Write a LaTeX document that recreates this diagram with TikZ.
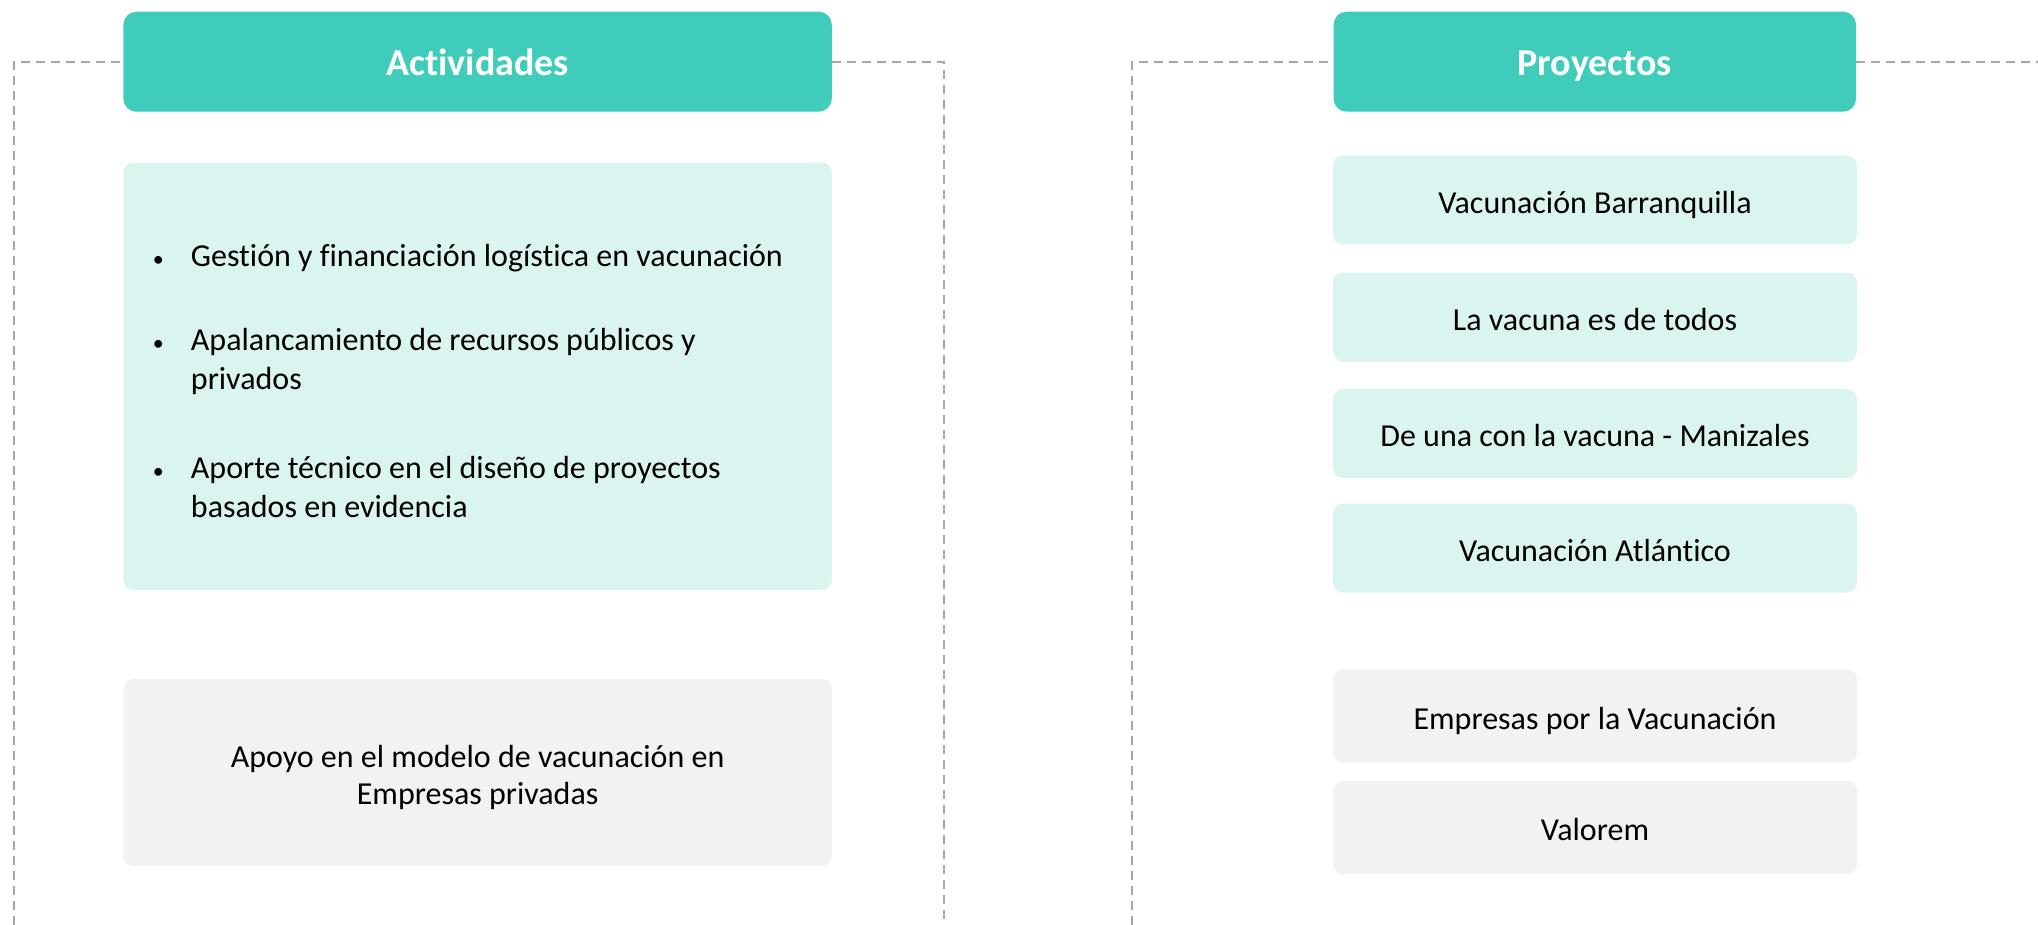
\documentclass[tikz,border=0pt]{standalone}
\usepackage{fontspec}
\setmainfont{Carlito}[Ligatures=NoCommon]
\usepackage{array}
\definecolor{tealhdr}{HTML}{3FCCBA}
\definecolor{lightteal}{HTML}{DAF4F0}
\definecolor{lightgray}{HTML}{F2F2F2}
\definecolor{dashgray}{HTML}{A6A6A6}
\newcommand{\smbullet}{\makebox[19pt][l]{\fontsize{11}{11}\selectfont\textbullet}}
\begin{document}
\begin{tikzpicture}[x=0.5pt,y=-0.5pt,
  hdr/.style={fill=tealhdr, rounded corners=6.5pt, text=white,
    font=\bfseries\fontsize{19}{22}\selectfont, inner sep=0pt,
    minimum height=50pt, text height=14.5pt, text depth=0.7pt},
  tealbox/.style={fill=lightteal, rounded corners=5pt, inner sep=0pt,
    font=\fontsize{16}{19.5}\selectfont, align=center},
  graybox/.style={fill=lightgray, rounded corners=5pt, inner sep=0pt,
    font=\fontsize{16}{18.5}\selectfont, align=center},
  oneline/.style={text height=13.8pt, text depth=0.4pt},
  frameline/.style={draw=dashgray, line width=1pt, dash pattern=on 4.5pt off 3pt}
]
\useasboundingbox (0,0) rectangle (2038,925);

% headers
\node[hdr, minimum width=354.15pt] (hA) at (477.6,61.7) {Actividades};
\node[hdr, minimum width=261.25pt] (hP) at (1594.8,61.7) {Proyectos};

% dashed frames
\coordinate (lb) at (14.3,925);
\coordinate (rb) at (943.6,925);
\coordinate (plb) at (1132,925);
\coordinate (pre) at (2045,61.7);
\draw[frameline] (lb) |- (hA.west);
\draw[frameline] (hA.east) -| (rb);
\draw[frameline] (plb) |- (hP.west);
\draw[frameline] (hP.east) -- (pre);

% activities
\node[tealbox, minimum width=354.15pt, minimum height=213.75pt] (act) at (477.6,376.3) {%
\raisebox{-4pt}[\height][\depth]{\makebox[354.15pt][l]{%
\begin{tabular}{@{\hspace{14.75pt}}l@{}l@{}}
\smbullet & Gestión y financiación logística en vacunación\\[22.5pt]
\smbullet & Apalancamiento de recursos públicos y\\
          & privados\\[25pt]
\smbullet & Aporte técnico en el diseño de proyectos\\
          & basados en evidencia
\end{tabular}}}};

\node[graybox, minimum width=354.15pt, minimum height=93.6pt] (apoyo) at (477.6,772.5)
  {\raisebox{-3.25pt}[\height][\depth]{\begin{tabular}{@{}c@{}}Apoyo en el modelo de vacunación en\\Empresas privadas\end{tabular}}};

% projects
\node[tealbox, oneline, minimum width=262pt, minimum height=44.5pt] (p1) at (1595,200) {Vacunación Barranquilla};
\node[tealbox, oneline, minimum width=262pt, minimum height=44.5pt] (p2) at (1595,317) {La vacuna es de todos};
\node[tealbox, oneline, minimum width=262pt, minimum height=44.5pt] (p3) at (1595,433.5) {De una con la vacuna - Manizales};
\node[tealbox, oneline, minimum width=262pt, minimum height=44.5pt] (p4) at (1595,548) {Vacunación Atlántico};

\node[graybox, oneline, minimum width=262pt, minimum height=46.5pt] (p5) at (1595,716) {Empresas por la Vacunación};
\node[graybox, oneline, minimum width=262pt, minimum height=46.5pt] (p6) at (1595,827.5) {Valorem};
\end{tikzpicture}
\end{document}
